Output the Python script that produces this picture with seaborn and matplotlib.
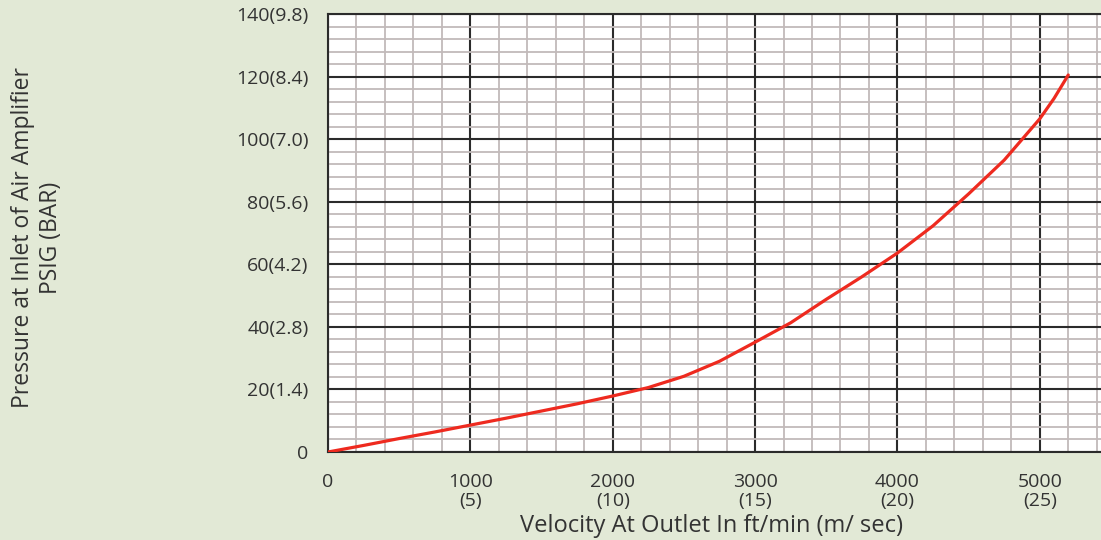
import matplotlib
matplotlib.use("Agg")
import matplotlib.pyplot as plt
from matplotlib.ticker import MultipleLocator, FixedLocator
import seaborn as sns
import pandas as pd

# Data
velocity = [0, 250, 500, 750, 1000, 1250, 1500, 1750, 2000, 2250, 2500, 2750,
            3000, 3250, 3500, 3750, 4000, 4250, 4500, 4750, 5000, 5100, 5200]
pressure = [0, 2.1, 4.3, 6.4, 8.6, 10.8, 13.1, 15.4, 17.9, 20.6, 24.2, 29.0,
            35.1, 41.3, 48.8, 56.0, 63.6, 72.3, 82.5, 93.3, 106.5, 113.0, 120.5]

x_ticks = [0, 1000, 2000, 3000, 4000, 5000]
x_tick_labels = ["0", "1000\n(5)", "2000\n(10)", "3000\n(15)", "4000\n(20)", "5000\n(25)"]
y_ticks = [0, 20, 40, 60, 80, 100, 120, 140]
y_tick_labels = ["0", "20(1.4)", "40(2.8)", "60(4.2)", "80(5.6)", "100(7.0)",
                 "120(8.4)", "140(9.8)"]

df = pd.DataFrame({"velocity": velocity, "pressure": pressure})

sns.set_style("white")
plt.rcParams["font.family"] = ["Open Sans", "DejaVu Sans"]

bg = "#e2e9d6"
fig = plt.figure(figsize=(11.01, 5.40), dpi=100, facecolor=bg)
ax = fig.add_axes([328 / 1101, 1 - 452 / 540, 1 - 328 / 1101, (452 - 14) / 540])
ax.set_facecolor("white")

sns.lineplot(data=df, x="velocity", y="pressure", ax=ax, color="#ee2a1f",
             linewidth=2.3, zorder=5)

ax.set_xlim(0, 5430)
ax.set_ylim(0, 140)

ax.xaxis.set_major_locator(FixedLocator(x_ticks))
ax.yaxis.set_major_locator(FixedLocator(y_ticks))
ax.set_xticklabels(x_tick_labels)
ax.set_yticklabels(y_tick_labels)
ax.xaxis.set_minor_locator(MultipleLocator(200))
ax.yaxis.set_minor_locator(MultipleLocator(4))

ax.grid(which="major", color="#2b2b2b", linewidth=1.5, zorder=2)
ax.grid(which="minor", color="#c2baba", linewidth=1.3, zorder=1)
ax.set_axisbelow(True)

ax.tick_params(axis="both", which="both", length=0)
ax.tick_params(axis="x", which="major", pad=15, labelsize=14, colors="#333333")
ax.tick_params(axis="y", which="major", pad=14, labelsize=14, colors="#333333")
for lbl in ax.get_xticklabels():
    lbl.set_linespacing(1.05)

for side in ["left", "bottom", "top"]:
    ax.spines[side].set_visible(True)
    ax.spines[side].set_color("#2b2b2b")
    ax.spines[side].set_linewidth(1.5)
ax.spines["right"].set_visible(False)

ax.set_xlabel("")
ax.set_ylabel("")
fig.text(712 / 1101, 1 - 532 / 540, "Velocity At Outlet In ft/min (m/ sec)",
         ha="center", va="baseline", fontsize=17, color="#333333")
fig.text(37 / 1101, 1 - 238 / 540, "Pressure at Inlet of Air Amplifier\nPSIG (BAR)",
         ha="center", va="center", rotation=90, fontsize=16.5, color="#333333",
         multialignment="center", linespacing=1.25)

fig.savefig("out.png", dpi=100, facecolor=bg)
